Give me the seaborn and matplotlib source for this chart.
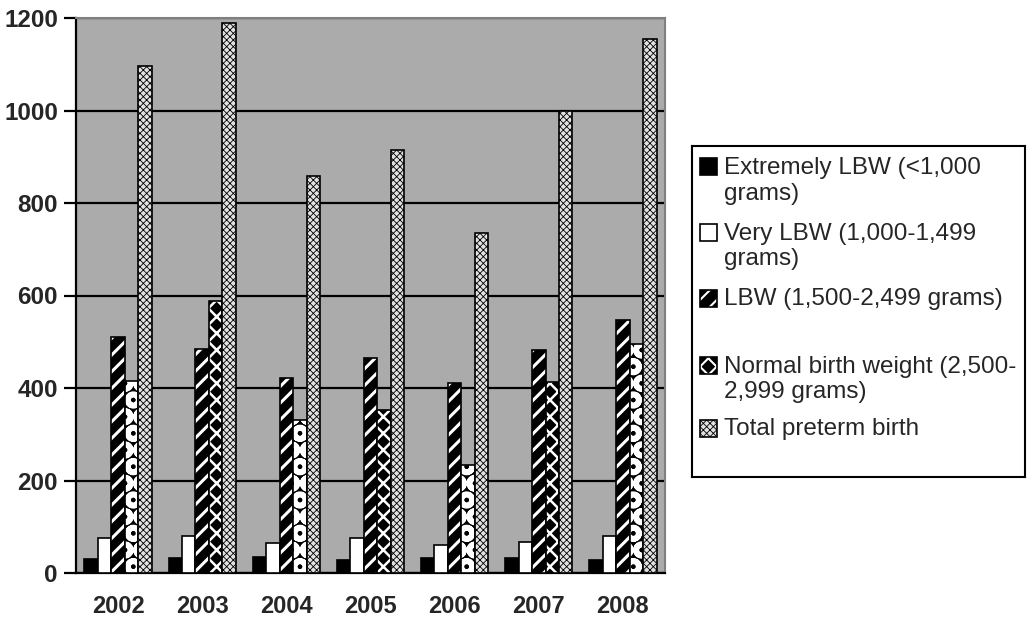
import numpy as np
import pandas as pd
import matplotlib.pyplot as plt
import seaborn as sns
from matplotlib.patches import Rectangle

# data
years = ['2002', '2003', '2004', '2005', '2006', '2007', '2008']
extremely_lbw = [30, 33, 35, 28, 32, 32, 29]
very_lbw = [75, 80, 65, 76, 60, 66, 79]
lbw = [510, 485, 422, 465, 410, 482, 548]
normal_bw = [415, 588, 330, 352, 233, 414, 496]
total_preterm = [1096, 1190, 858, 915, 735, 1000, 1155]

series = ['Extremely LBW (<1,000 grams)',
          'Very LBW (1,000-1,499 grams)',
          'LBW (1,500-2,499 grams)',
          'Normal birth weight (2,500-2,999 grams)',
          'Total preterm birth']
legend_labels = ['Extremely LBW (<1,000\ngrams)',
                 'Very LBW (1,000-1,499\ngrams)',
                 'LBW (1,500-2,499 grams)',
                 'Normal birth weight (2,500-\n2,999 grams)',
                 'Total preterm birth']
yticks = [0, 200, 400, 600, 800, 1000, 1200]

df = pd.DataFrame({
    'year': years * 5,
    'series': np.repeat(series, len(years)),
    'value': extremely_lbw + very_lbw + lbw + normal_bw + total_preterm,
})

# look of each series: face colour, hatch, hatch colour, hatch line width
styles = [
    ('black', '', 'black', 1.0),
    ('white', '', 'black', 1.0),
    ('black', '//', 'white', 2.2),
    ('black', 'xx', 'white', 1.8),
    ('#e2e2e2', 'xxxxx', 'black', 0.6),
]


def style_patch(p, fc, hatch, hc, hlw):
    p.set_facecolor(fc)
    p.set_edgecolor('black')
    p.set_hatch(hatch)
    p._hatch_color = plt.matplotlib.colors.to_rgba(hc)
    if hasattr(p, 'set_hatch_linewidth'):
        p.set_hatch_linewidth(hlw)


sns.set_style('white')
plt.rcParams['font.family'] = ['Liberation Sans', 'DejaVu Sans']

fig = plt.figure(figsize=(10.27, 6.2), dpi=100)
ax = fig.add_axes([76 / 1027, 47 / 620, 589 / 1027, 555 / 620])
ax.set_facecolor('#ababab')

sns.barplot(data=df, x='year', y='value', hue='series', hue_order=series,
            order=years, width=0.8, ax=ax, legend=False,
            edgecolor='black', linewidth=1.2, saturation=1)

for cont, (fc, hatch, hc, hlw) in zip(ax.containers, styles):
    for i, bar in enumerate(cont):
        h, lw = hatch, hlw
        # normal birth weight alternates between dots and diamonds
        if hatch == 'xx' and i % 2 == 0:
            h, lw = 'O', 4.0
        style_patch(bar, fc, h, hc, lw)
        bar.set_zorder(3)

ax.set_ylim(0, 1200)
ax.set_xlim(-0.5, 6.5)
ax.set_yticks(yticks)
ax.set_yticklabels([str(t) for t in yticks], fontsize=17.5, fontweight='bold')
ax.yaxis.grid(True, color='black', linewidth=1.6, zorder=1)
ax.set_axisbelow(True)

# x ticks sit between the year groups
ax.set_xticks(np.arange(-0.5, 7, 1), minor=True)
ax.set_xticks(range(len(years)))
ax.set_xticklabels(years, fontsize=17, fontweight='bold')
ax.tick_params(axis='x', which='major', length=0, pad=16)
ax.tick_params(axis='x', which='minor', length=10, width=1.6, color='black',
               direction='out')
ax.tick_params(axis='y', length=9, width=1.6, color='black', direction='out',
               pad=4, left=True)
ax.set_xlabel('')
ax.set_ylabel('')

for side in ['left', 'bottom']:
    ax.spines[side].set_color('black')
    ax.spines[side].set_linewidth(1.6)
for side in ['top', 'right']:
    ax.spines[side].set_visible(True)
    ax.spines[side].set_color('#808080')
    ax.spines[side].set_linewidth(1.5)

# legend box drawn by hand so the swatch sits on the first line
lax = fig.add_axes([692 / 1027, (620 - 477) / 620, 333 / 1027, 331 / 620])
lax.set_xlim(0, 333)
lax.set_ylim(331, 0)
lax.set_xticks([])
lax.set_yticks([])
for s in lax.spines.values():
    s.set_visible(True)
    s.set_color('black')
    s.set_linewidth(1.5)

entry_mid = [20.5, 86, 152, 219, 282]
for (fc, hatch, hc, hlw), label, y in zip(styles, legend_labels, entry_mid):
    sw = Rectangle((8, y - 8.5), 17, 17)
    style_patch(sw, fc, hatch, hc, min(hlw, 1.5))
    sw.set_linewidth(1.2)
    lax.add_patch(sw)
    lax.text(32, y - 9.5, label, fontsize=17.5, va='top', ha='left',
             linespacing=1.22)

fig.savefig('out.png', dpi=100)
